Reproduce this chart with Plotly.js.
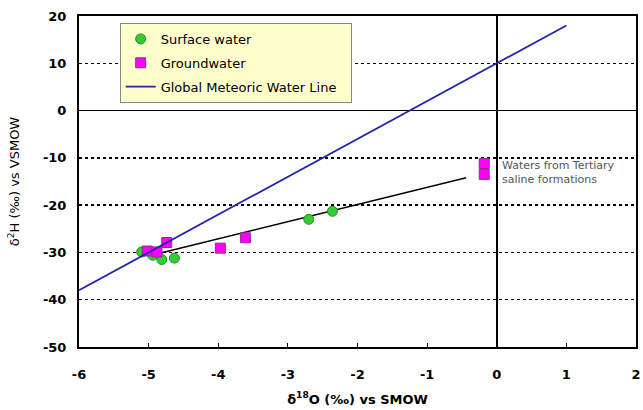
<!DOCTYPE html>
<html>
<head>
<meta charset="utf-8">
<script src="https://cdn.plot.ly/plotly-3.0.1.min.js"></script>
<style>body{margin:0;padding:0;background:#fff}#chart{width:643px;height:410px}</style>
</head>
<body>
<div id="chart"></div>
<script>
// Data
const surfaceX = [-5.10, -4.94, -4.81, -4.63, -2.70, -2.36];
const surfaceY = [-29.9, -30.6, -31.5, -31.2, -23.0, -21.3];
const groundX = [-5.02, -4.88, -4.74, -3.97, -3.61, -0.18, -0.18];
const groundY = [-29.7, -29.9, -27.9, -29.1, -26.9, -11.2, -13.5];
const gmwlX = [-6, 1];
const gmwlY = [-38, 18];
const trendX = [-4.9, -0.44];
const trendY = [-30.4, -14.2];
const xTicks = [-6, -5, -4, -3, -2, -1, 0, 1, 2];
const yTicks = [-50, -40, -30, -20, -10, 0, 10, 20];

const fontFam = '"DejaVu Sans", "Noto Sans", sans-serif';

const traces = [
  {x: trendX, y: trendY, mode: 'lines', line: {color: '#000000', width: 1.5}, showlegend: false, hoverinfo: 'skip'},
  {x: surfaceX, y: surfaceY, mode: 'markers', name: 'Surface water', legendgroup: 'a',
   marker: {symbol: 'circle', size: 10, color: '#33cc33', line: {color: '#2a8a2a', width: 1}}},
  {x: groundX, y: groundY, mode: 'markers', name: 'Groundwater', legendgroup: 'b',
   marker: {symbol: 'square', size: 10, color: '#ff00ff', line: {color: '#883388', width: 1}}},
  {x: gmwlX, y: gmwlY, mode: 'lines', name: 'Global Meteoric Water Line  ', legendgroup: 'c',
   line: {color: '#2222aa', width: 1.8}}
];

const layout = {
  width: 643, height: 410,
  margin: {l: 79, r: 7, t: 16, b: 63},
  paper_bgcolor: '#ffffff', plot_bgcolor: '#ffffff',
  font: {family: fontFam, color: '#000000'},
  showlegend: true,
  legend: {
    x: 0.073, y: 0.979, xanchor: 'left', yanchor: 'top',
    bgcolor: '#ffffcc', bordercolor: '#888888', borderwidth: 1,
    font: {family: fontFam, size: 13, color: '#000000'},
    traceorder: 'grouped', tracegroupgap: 4
  },
  xaxis: {
    range: [-6, 2], tickvals: xTicks, ticktext: xTicks.map(String),
    showgrid: false, zeroline: true, zerolinecolor: '#000000', zerolinewidth: 1.5,
    showline: true, linecolor: '#000000', linewidth: 2, mirror: true,
    ticks: 'inside', ticklen: 4, tickcolor: '#000000',
    ticklabelstandoff: 14, ticklabeloverflow: 'allow',
    tickfont: {family: fontFam, size: 13, color: '#000000', weight: 'bold'},
    title: {text: '<b>δ<sup>18</sup>O (‰) vs SMOW</b>', font: {family: fontFam, size: 13, color: '#000000'}, standoff: 14}
  },
  yaxis: {
    range: [-50, 20], tickvals: yTicks, ticktext: yTicks.map(String),
    showgrid: true, gridcolor: '#000000', griddash: 'dot', gridwidth: 1.5,
    zeroline: true, zerolinecolor: '#000000', zerolinewidth: 1.5,
    showline: true, linecolor: '#000000', linewidth: 2, mirror: true,
    ticks: '', ticklabelstandoff: 8,
    tickfont: {family: fontFam, size: 13, color: '#000000', weight: 'bold'},
    title: {text: 'δ<sup>2</sup>H (‰) vs VSMOW', font: {family: fontFam, size: 13, color: '#000000'}, standoff: 20}
  },
  annotations: [
    {x: 0.05, y: -13, xref: 'x', yref: 'y', xanchor: 'left', yanchor: 'middle', showarrow: false, align: 'left',
     text: 'Waters from Tertiary<br>saline formations', font: {family: fontFam, size: 11, color: '#555555'}}
  ]
};

Plotly.newPlot('chart', traces, layout, {displayModeBar: false, staticPlot: true});
</script>
</body>
</html>
